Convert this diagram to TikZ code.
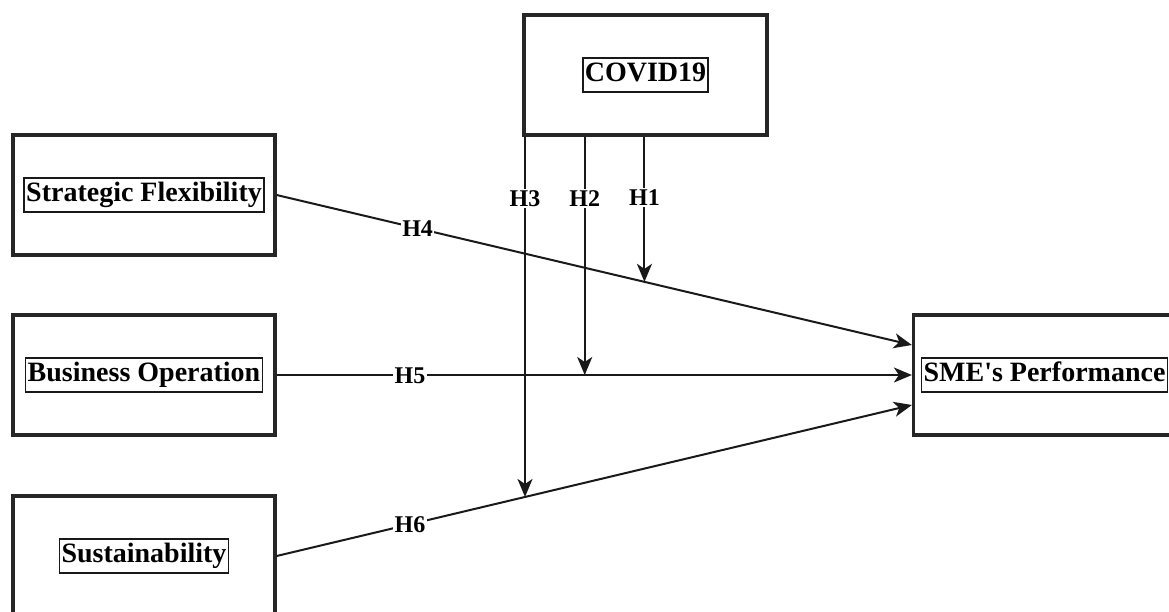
\documentclass[tikz,border=0pt]{standalone}
\usepackage{fontspec}
\setmainfont{Liberation Serif}
\usetikzlibrary{arrows.meta}
\begin{document}
\begin{tikzpicture}[x=1pt,y=-1pt,
  outerbox/.style={draw=black!85,line width=3.2pt,minimum width=262pt,minimum height=120pt,inner sep=0pt},
  lbl/.style={draw=black!90,line width=1.4pt,inner sep=2pt,minimum height=34pt,
    font=\fontsize{28}{32}\selectfont\bfseries,text height=19.5pt,text depth=6pt},
  hyp/.style={fill=white,inner sep=1.5pt,font=\fontsize{24}{28}\selectfont\bfseries,text height=16pt,text depth=0pt},
  conn/.style={draw=black!90,line width=2pt},
  arr/.style={conn,-{Stealth[length=18pt,width=15pt,inset=5pt]}}]
\useasboundingbox (0,0) rectangle (1169,611);
\clip (0,0) rectangle (1169,611);
% boxes
\node[outerbox,minimum width=243pt] (cv) at (645.5,75) {};
\node[lbl] at (cv) {COVID19};
\node[outerbox] (sf) at (144,195) {};
\node[lbl] at (sf) {Strategic Flexibility};
\node[outerbox] (bo) at (144,375) {};
\node[lbl] at (bo) {Business Operation};
\node[outerbox] (su) at (144,556) {};
\node[lbl] at (su) {Sustainability};
\node[outerbox] (sme) at (1044.5,375) {};
\node[lbl] at (sme) {SME\textquotesingle s Performance};
% main paths
\coordinate (smeA) at ([yshift=30pt]sme.west);
\coordinate (smeC) at ([yshift=-30pt]sme.west);
\draw[arr] (sf.east) -- coordinate[pos=0.579] (m1) node[hyp,pos=0.222] {H4} (smeA);
\draw[arr] (bo.east) -- coordinate[pos=0.485] (m2) node[hyp,pos=0.21] {H5} (sme.west);
\draw[arr] (su.east) -- coordinate[pos=0.391] (m3) node[hyp,pos=0.21] {H6} (smeC);
% moderating paths
\coordinate (t1) at (cv.south -| m1);
\coordinate (t2) at (cv.south -| m2);
\coordinate (t3) at (cv.south -| m3);
\draw[arr] (t1) -- node[hyp,pos=0.42] {H1} (m1);
\draw[arr] (t2) -- node[hyp,pos=0.26] {H2} (m2);
\draw[arr] (t3) -- node[hyp,pos=0.172] {H3} (m3);
\end{tikzpicture}
\end{document}
